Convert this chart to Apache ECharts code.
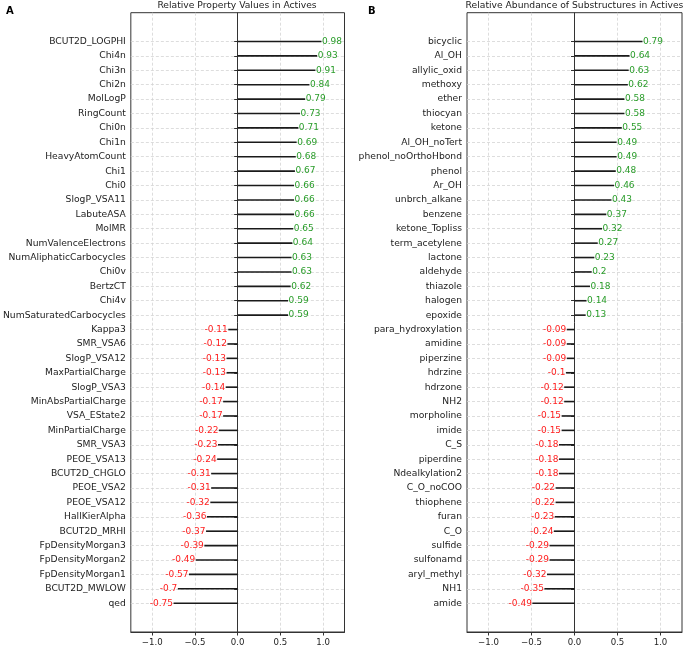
<!DOCTYPE html>
<html><head><meta charset="utf-8">
<script src="https://cdn.jsdelivr.net/npm/echarts@6/dist/echarts.min.js"></script>
<style>html,body{margin:0;padding:0;background:#fff}#c{width:685px;height:647px}</style>
</head><body><div id="c"></div>
<script>
const propNames = ['BCUT2D_LOGPHI','Chi4n','Chi3n','Chi2n','MolLogP','RingCount','Chi0n','Chi1n','HeavyAtomCount','Chi1','Chi0','SlogP_VSA11','LabuteASA','MolMR','NumValenceElectrons','NumAliphaticCarbocycles','Chi0v','BertzCT','Chi4v','NumSaturatedCarbocycles','Kappa3','SMR_VSA6','SlogP_VSA12','MaxPartialCharge','SlogP_VSA3','MinAbsPartialCharge','VSA_EState2','MinPartialCharge','SMR_VSA3','PEOE_VSA13','BCUT2D_CHGLO','PEOE_VSA2','PEOE_VSA12','HallKierAlpha','BCUT2D_MRHI','FpDensityMorgan3','FpDensityMorgan2','FpDensityMorgan1','BCUT2D_MWLOW','qed'];
const propValues = [0.98,0.93,0.91,0.84,0.79,0.73,0.71,0.69,0.68,0.67,0.66,0.66,0.66,0.65,0.64,0.63,0.63,0.62,0.59,0.59,-0.11,-0.12,-0.13,-0.13,-0.14,-0.17,-0.17,-0.22,-0.23,-0.24,-0.31,-0.31,-0.32,-0.36,-0.37,-0.39,-0.49,-0.57,-0.7,-0.75];
const subNames = ['bicyclic','Al_OH','allylic_oxid','methoxy','ether','thiocyan','ketone','Al_OH_noTert','phenol_noOrthoHbond','phenol','Ar_OH','unbrch_alkane','benzene','ketone_Topliss','term_acetylene','lactone','aldehyde','thiazole','halogen','epoxide','para_hydroxylation','amidine','piperzine','hdrzine','hdrzone','NH2','morpholine','imide','C_S','piperdine','Ndealkylation2','C_O_noCOO','thiophene','furan','C_O','sulfide','sulfonamd','aryl_methyl','NH1','amide'];
const subValues = [0.79,0.64,0.63,0.62,0.58,0.58,0.55,0.49,0.49,0.48,0.46,0.43,0.37,0.32,0.27,0.23,0.2,0.18,0.14,0.13,-0.09,-0.09,-0.09,-0.1,-0.12,-0.12,-0.15,-0.15,-0.18,-0.18,-0.18,-0.22,-0.22,-0.23,-0.24,-0.29,-0.29,-0.32,-0.35,-0.49];
const xTicks = [-1.0,-0.5,0.0,0.5,1.0];
const titles = ['Relative Property Values in Actives','Relative Abundance of Substructures in Actives'];
const panelLetters = ['A','B'];

const GREEN = '#2a9d2a', RED = '#ff2020';
const FONT = 'DejaVu Sans';
const pads = [' ','  '];
const padsEnd = ['   ','    '];
function cats(names){ return pads.concat(names, padsEnd); }
function makeData(vals){
  const d = ['-','-'];
  vals.forEach(v => d.push({value:v,label:{position:v>=0?'right':'left',color:v>=0?GREEN:RED}}));
  d.push('-','-');
  return d;
}
const isReal = (idx,val) => String(val).trim() !== '';

const grids = [{left:129.5,top:12.7,width:215,height:620},{left:467,top:12.7,width:215,height:620}];
const allNames = [propNames, subNames];
const allVals = [propValues, subValues];

const option = {
  animation:false,
  textStyle:{fontFamily:FONT},
  grid: grids.map(g => Object.assign({show:true,borderColor:'#333',borderWidth:1,backgroundColor:'transparent'},g)),
  xAxis: grids.map((g,i) => ({
    type:'value', gridIndex:i, min:-1.25, max:1.25, splitNumber:5,
    axisLine:{show:true,onZero:false,lineStyle:{color:'#333'}},
    axisTick:{show:true,length:3.5,customValues:xTicks,lineStyle:{color:'#333'}},
    axisLabel:{fontSize:8.6,color:'#222',margin:6,fontFamily:FONT,customValues:xTicks,
      formatter:v => { const t = xTicks.find(x=>Math.abs(x-v)<1e-6); return t===undefined?'':(t<0?'\u2212':'')+Math.abs(t).toFixed(1); }},
    splitLine:{show:true,lineStyle:{type:[3,2],color:'#d4d4d4',width:0.8}}
  })),
  yAxis: grids.map((g,i) => ({
    type:'category', gridIndex:i, inverse:true, boundaryGap:false, data:cats(allNames[i]),
    axisLine:{show:true,lineStyle:{color:'#333'}},
    axisTick:{show:true,length:3.5,interval:isReal,lineStyle:{color:'#333'}},
    axisLabel:{interval:0,fontSize:9.2,color:'#222',margin:5,fontFamily:FONT},
    splitLine:{show:true,interval:isReal,lineStyle:{type:[3,2],color:'#d4d4d4',width:0.8}}
  })),
  series: grids.map((g,i) => ({
    type:'bar', xAxisIndex:i, yAxisIndex:i, barWidth:1.6,
    itemStyle:{color:'#1a1a1a'},
    label:{show:true,distance:0.5,fontSize:9,fontFamily:FONT,formatter:p => String(p.value)},
    data:makeData(allVals[i])
  })),
  graphic: [
    ...titles.map((t,i) => ({type:'text', x:grids[i].left+grids[i].width/2, y:6, silent:true,
      style:{text:t, align:'center', verticalAlign:'middle', textAlign:'center', textVerticalAlign:'middle', fontSize:9.2, fontFamily:FONT, fill:'#222'}})),
    ...panelLetters.map((t,i) => ({type:'text', x:[6,368][i], y:11, silent:true,
      style:{text:t, align:'left', verticalAlign:'middle', textAlign:'left', textVerticalAlign:'middle', fontSize:10, fontWeight:'bold', fontFamily:FONT, fill:'#000'}}))
  ]
};
const chart = echarts.init(document.getElementById('c'), null, {renderer:'canvas'});
chart.setOption(option);
</script></body></html>
